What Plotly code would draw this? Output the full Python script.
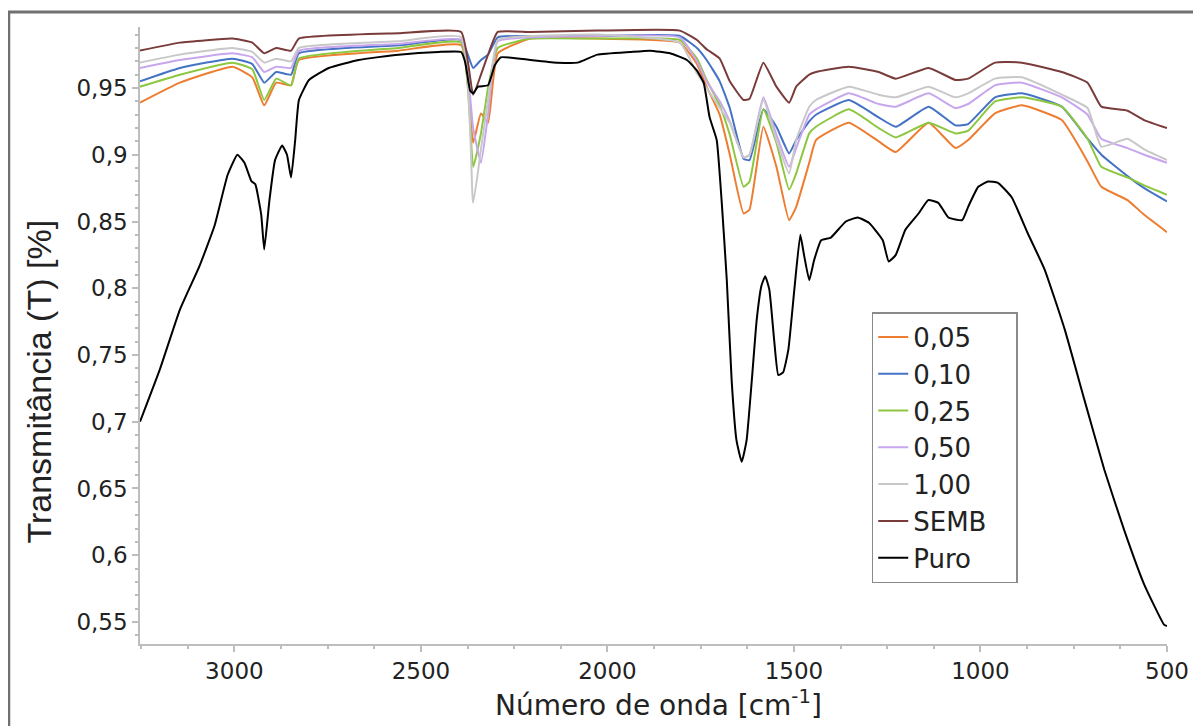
import plotly.graph_objects as go

# Wavenumber grid (cm^-1) for the sample series
wn = [3253, 3146, 3005, 2952, 2920, 2888, 2848, 2827, 2560, 2392, 2360, 2339, 2320, 2294,
      2206, 2027, 1806, 1760, 1734, 1699, 1672, 1635, 1619, 1582, 1547, 1513, 1494, 1459,
      1441, 1353, 1273, 1227, 1139, 1067, 1033, 961, 889, 782, 713, 676, 606, 561, 500]

t_005 = [0.939, 0.954, 0.966, 0.958, 0.937, 0.954, 0.952, 0.971, 0.978, 0.982, 0.909, 0.931, 0.924, 0.976,
         0.987, 0.987, 0.984, 0.968, 0.951, 0.930, 0.900, 0.856, 0.859, 0.921, 0.891, 0.851, 0.861, 0.894,
         0.911, 0.924, 0.910, 0.902, 0.924, 0.905, 0.911, 0.931, 0.937, 0.926, 0.895, 0.876, 0.866, 0.855, 0.842]
t_010 = [0.955, 0.965, 0.972, 0.968, 0.954, 0.962, 0.960, 0.976, 0.982, 0.986, 0.965, 0.971, 0.975, 0.988,
         0.989, 0.989, 0.989, 0.980, 0.971, 0.955, 0.935, 0.897, 0.896, 0.934, 0.921, 0.901, 0.911, 0.925,
         0.930, 0.941, 0.928, 0.921, 0.936, 0.922, 0.923, 0.943, 0.946, 0.936, 0.912, 0.900, 0.884, 0.875, 0.865]
t_025 = [0.951, 0.960, 0.969, 0.964, 0.941, 0.957, 0.952, 0.972, 0.980, 0.984, 0.891, 0.916, 0.950, 0.980,
         0.987, 0.987, 0.986, 0.972, 0.956, 0.937, 0.915, 0.876, 0.880, 0.934, 0.909, 0.874, 0.886, 0.916,
         0.921, 0.934, 0.920, 0.913, 0.924, 0.916, 0.918, 0.940, 0.943, 0.936, 0.912, 0.891, 0.883, 0.877, 0.870]
t_050 = [0.965, 0.971, 0.976, 0.973, 0.962, 0.966, 0.965, 0.978, 0.983, 0.986, 0.920, 0.894, 0.930, 0.985,
         0.988, 0.989, 0.988, 0.970, 0.955, 0.940, 0.925, 0.898, 0.900, 0.943, 0.915, 0.891, 0.905, 0.930,
         0.934, 0.946, 0.938, 0.936, 0.946, 0.935, 0.938, 0.952, 0.954, 0.943, 0.930, 0.912, 0.905, 0.900, 0.894]
t_100 = [0.969, 0.975, 0.980, 0.977, 0.969, 0.972, 0.970, 0.980, 0.985, 0.988, 0.864, 0.904, 0.941, 0.986,
         0.989, 0.990, 0.984, 0.961, 0.950, 0.935, 0.924, 0.898, 0.900, 0.941, 0.911, 0.886, 0.911, 0.936,
         0.941, 0.951, 0.945, 0.943, 0.951, 0.943, 0.946, 0.957, 0.958, 0.945, 0.935, 0.906, 0.912, 0.904, 0.896]
t_semb = [0.978, 0.984, 0.987, 0.984, 0.976, 0.980, 0.978, 0.987, 0.991, 0.992, 0.945, 0.960, 0.975, 0.992,
          0.992, 0.993, 0.993, 0.986, 0.979, 0.972, 0.955, 0.941, 0.942, 0.969, 0.951, 0.939, 0.951, 0.960,
          0.962, 0.966, 0.962, 0.957, 0.965, 0.956, 0.957, 0.969, 0.969, 0.962, 0.954, 0.936, 0.933, 0.926, 0.920]

# Pure sample (own grid)
wn_puro = [3253, 3200, 3146, 3093, 3053, 3018, 2992, 2973, 2954, 2944, 2928, 2920, 2906, 2891, 2872,
           2859, 2848, 2837, 2827, 2800, 2747, 2667, 2560, 2453, 2392, 2381, 2368, 2360, 2347, 2320,
           2302, 2286, 2206, 2134, 2080, 2027, 1939, 1886, 1832, 1787, 1760, 1742, 1726, 1707, 1694,
           1680, 1667, 1654, 1640, 1627, 1613, 1600, 1587, 1577, 1566, 1553, 1542, 1529, 1515, 1499,
           1483, 1473, 1459, 1446, 1427, 1401, 1361, 1329, 1299, 1262, 1246, 1227, 1201, 1166, 1140,
           1113, 1086, 1049, 1033, 1006, 980, 953, 916, 873, 828, 774, 721, 668, 615, 561, 508, 500]
t_puro = [0.700, 0.739, 0.784, 0.817, 0.847, 0.885, 0.900, 0.894, 0.880, 0.878, 0.855, 0.829, 0.866, 0.896, 0.907,
          0.900, 0.883, 0.911, 0.941, 0.956, 0.965, 0.971, 0.975, 0.977, 0.977, 0.969, 0.948, 0.946, 0.951, 0.952,
          0.967, 0.973, 0.971, 0.969, 0.969, 0.975, 0.977, 0.978, 0.976, 0.971, 0.963, 0.954, 0.928, 0.911, 0.866,
          0.806, 0.731, 0.686, 0.670, 0.686, 0.731, 0.776, 0.802, 0.809, 0.799, 0.761, 0.735, 0.737, 0.754, 0.799,
          0.840, 0.825, 0.806, 0.821, 0.836, 0.838, 0.850, 0.853, 0.849, 0.836, 0.820, 0.825, 0.844, 0.856, 0.866,
          0.864, 0.853, 0.851, 0.861, 0.876, 0.880, 0.879, 0.868, 0.841, 0.814, 0.769, 0.716, 0.664, 0.619, 0.578, 0.548, 0.547]

y_tickvals = [0.55, 0.6, 0.65, 0.7, 0.75, 0.8, 0.85, 0.9, 0.95]
y_ticktext = ["0,55", "0,6", "0,65", "0,7", "0,75", "0,8", "0,85", "0,9", "0,95"]
x_tickvals = [3000, 2500, 2000, 1500, 1000, 500]
x_ticktext = ["3000", "2500", "2000", "1500", "1000", "500"]

series = [
    ("0,05", t_005, "#ED7D31", wn),
    ("0,10", t_010, "#4472C4", wn),
    ("0,25", t_025, "#8DC63F", wn),
    ("0,50", t_050, "#C7A6EE", wn),
    ("1,00", t_100, "#C8C8C8", wn),
    ("SEMB\u00a0\u00a0\u00a0", t_semb, "#7A3B3B", wn),
    ("Puro", t_puro, "#000000", wn_puro),
]

fig = go.Figure()
for name, ys, color, xs in series:
    fig.add_trace(go.Scatter(x=xs, y=ys, mode="lines", name=name,
                             line=dict(color=color, width=2, shape="spline", smoothing=0.4)))

# The page draws the figure 8 px in from the top-left corner.
OFF = 8
W, H = 1193, 718
L, R, T, B = 132, 28, 19, 82
pw, ph = W - L - R, H - T - B

def px_x(px):
    return (px - OFF - L) / pw

def px_y(py):
    return (H - B - (py - OFF)) / ph

txt = "#222222"
axis_col = "#BDBDBD"
fig.update_layout(
    width=W, height=H,
    margin=dict(l=L, r=R, t=T, b=B),
    paper_bgcolor="white", plot_bgcolor="white",
    font=dict(family="DejaVu Sans", color=txt),
    showlegend=True,
    legend=dict(x=px_x(876), y=px_y(312), xanchor="left", yanchor="top",
                bgcolor="white", bordercolor="#8a8a8a", borderwidth=1.5,
                font=dict(size=26, family="DejaVu Sans", color=txt),
                tracegroupgap=0, itemwidth=30),
    xaxis=dict(range=[3253, 500], showgrid=False, zeroline=False,
               showline=True, linecolor=axis_col, linewidth=1.5,
               ticks="outside", ticklen=6, tickcolor=axis_col, tickwidth=1.5,
               tickvals=x_tickvals, ticktext=x_ticktext, ticklabeloverflow="allow",
               tickfont=dict(size=23, family="DejaVu Sans", color=txt),
               minor=dict(dtick=125, tick0=500, ticks="outside", ticklen=3, tickcolor=axis_col)),
    yaxis=dict(range=[0.5335, 0.9957], showgrid=False, zeroline=False,
               showline=True, linecolor=axis_col, linewidth=1.5,
               ticks="outside", ticklen=6, tickcolor=axis_col, tickwidth=1.5,
               tickvals=y_tickvals, ticktext=y_ticktext,
               tickfont=dict(size=23, family="DejaVu Sans", color=txt),
               minor=dict(dtick=0.01, tick0=0.5, ticks="outside", ticklen=3, tickcolor=axis_col)),
    annotations=[
        dict(text="Transmitância (T) [%]", xref="paper", yref="paper",
             x=px_x(38), y=px_y(382), xanchor="center", yanchor="middle",
             textangle=-90, showarrow=False,
             font=dict(size=34, family="Liberation Sans", color=txt)),
        dict(text="Número de onda [cm<sup>-1</sup>]", xref="paper", yref="paper",
             x=px_x(662), y=px_y(703), xanchor="center", yanchor="middle",
             showarrow=False,
             font=dict(size=28, family="DejaVu Sans", color=txt)),
    ],
    shapes=[dict(type="rect", xref="paper", yref="paper",
                 x0=px_x(8), x1=px_x(1240), y0=px_y(780), y1=px_y(12),
                 line=dict(color="#707070", width=3), fillcolor="rgba(0,0,0,0)", layer="below")],
)

fig.write_html("out.html")
